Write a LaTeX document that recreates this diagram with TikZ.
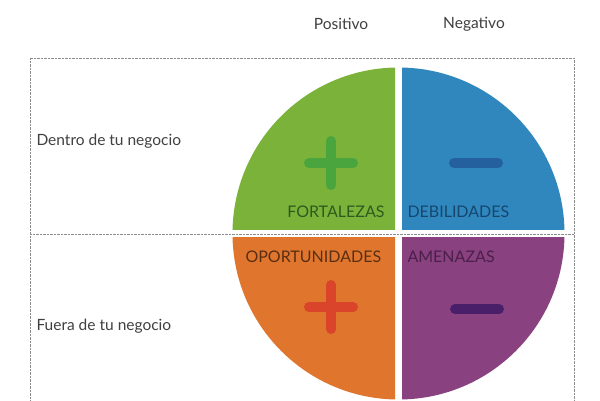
\documentclass[tikz,border=0pt]{standalone}
\usepackage{fontspec}
\setmainfont{Lato}
\begin{document}
\definecolor{fortal}{HTML}{7AB23A}
\definecolor{debil}{HTML}{2F87BE}
\definecolor{oport}{HTML}{E0762E}
\definecolor{amen}{HTML}{8A4180}
\begin{tikzpicture}[x=1pt,y=-1pt,
  lbl/.style={font=\fontsize{15.5}{17}\selectfont, text=black!75},
  quad/.style={font=\fontsize{16}{18}\selectfont},
  sign/.style={line width=10pt, line cap=round}]
  \useasboundingbox (0,0) rectangle (600,400);
  \fill[white] (0,0) rectangle (600,400);
  % quadrants
  \begin{scope}
    \clip (200,40) rectangle (395,229.5);
    \fill[fortal] (398.5,233.5) circle (166);
  \end{scope}
  \begin{scope}
    \clip (402,40) rectangle (600,229.5);
    \fill[debil] (398.5,233.5) circle (166);
  \end{scope}
  \begin{scope}
    \clip (200,237.5) rectangle (395,420);
    \fill[oport] (398.5,233.5) circle (166);
  \end{scope}
  \begin{scope}
    \clip (402,237.5) rectangle (600,420);
    \fill[amen] (398.5,233.5) circle (166);
  \end{scope}
  % dotted frame
  \draw[black!45, densely dotted] (30,400) -- (30,58) -- (574,58) -- (574,400);
  \draw[black!45, densely dotted] (30,234) -- (574,234);
  % signs
  \draw[sign, color={rgb,255:red,75;green,165;blue,63}] (309,163) -- (353,163) (331,141) -- (331,185);
  \draw[sign, color={rgb,255:red,36;green,96;blue,158}] (454,163) -- (498,163);
  \draw[sign, color={rgb,255:red,217;green,68;blue,43}] (309,307) -- (353,307) (331,285) -- (331,329);
  \draw[sign, color={rgb,255:red,74;green,31;blue,106}] (455,309) -- (499,309);
  % labels
  \node[quad, anchor=east, text={rgb,255:red,45;green,90;blue,30}] (fo) at (388,212) {FORTALEZAS};
  \node[quad, anchor=west, text={rgb,255:red,22;green,70;blue,110}] (de) at (404,212) {DEBILIDADES};
  \node[quad, anchor=west, text={rgb,255:red,90;green,46;blue,18}] (op) at (242,257) {OPORTUNIDADES};
  \node[quad, anchor=west, text={rgb,255:red,74;green,31;blue,74}] (am) at (404,257) {AMENAZAS};
  \node[lbl] (pos) at (341,24) {Positivo};
  \node[lbl] (neg) at (474,24) {Negativo};
  \node[lbl, anchor=west] (dentro) at (33,141) {Dentro de tu negocio};
  \node[lbl, anchor=west] (fuera) at (33,326) {Fuera de tu negocio};
\end{tikzpicture}
\end{document}
